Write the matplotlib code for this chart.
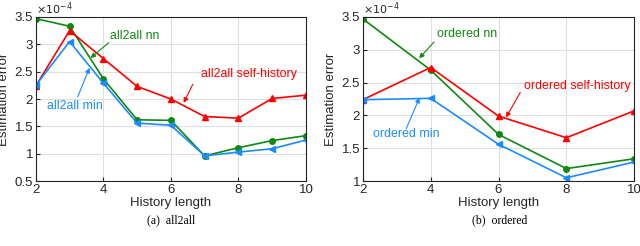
import numpy as np
import matplotlib.pyplot as plt

plt.rcParams['font.family'] = ['Liberation Sans', 'DejaVu Sans']

# all2all panel
a_x = [2, 3, 4, 5, 6, 7, 8, 9, 10]
a_nn = [3.47, 3.33, 2.37, 1.62, 1.61, 0.96, 1.11, 1.24, 1.33]
a_min = [2.25, 3.05, 2.29, 1.56, 1.52, 0.96, 1.03, 1.09, 1.25]
a_self = [2.24, 3.25, 2.74, 2.23, 2.00, 1.68, 1.65, 2.01, 2.07]

# ordered panel
o_x = [2, 4, 6, 8, 10]
o_nn = [3.47, 2.69, 1.71, 1.19, 1.34]
o_min = [2.24, 2.26, 1.56, 1.05, 1.29]
o_self = [2.24, 2.73, 1.99, 1.66, 2.07]

green = '#118811'
red = '#ff0000'
blue = '#1a8cff'

fig = plt.figure(figsize=(6.4, 2.46), dpi=100)
ax1 = fig.add_axes([0.056, 0.264, 0.422, 0.667])
ax2 = fig.add_axes([0.567, 0.264, 0.424, 0.667])


def style(ax, ylo, yhi, yticks, yticklabels):
    ax.set_xlim(2, 10)
    ax.set_ylim(ylo, yhi)
    ax.set_xticks([2, 4, 6, 8, 10])
    ax.set_yticks(yticks)
    ax.set_yticklabels(yticklabels)
    ax.grid(True, color='#e0e0e0', linewidth=0.8)
    ax.set_axisbelow(True)
    ax.tick_params(direction='in', length=3, labelsize=9.5, colors='#262626', pad=2)
    for s in ax.spines.values():
        s.set_color('#262626')
        s.set_linewidth(0.8)
    ax.set_xlabel('History length', fontsize=9.5, color='#262626', labelpad=1)
    ax.set_ylabel('Estimation error', fontsize=9.5, color='#262626', labelpad=3)
    ax.text(0.0, 1.0, r'$\times10^{-4}$', transform=ax.transAxes, fontsize=8,
            color='#262626', ha='left', va='bottom')


def note(ax, txt, color, xy, xytext, tx, ty):
    ax.annotate('', xy=xy, xytext=xytext,
                arrowprops=dict(arrowstyle='-|>', color=color, lw=0.8,
                                mutation_scale=7, shrinkA=0, shrinkB=0))
    ax.text(tx, ty, txt, color=color, fontsize=8.9, va='center', ha='left')


ax1.plot(a_x, a_nn, color=green, marker='o', ms=4, lw=1.2)
ax1.plot(a_x, a_self, color=red, marker='^', ms=4.5, lw=1.2)
ax1.plot(a_x, a_min, color=blue, marker='<', ms=4.5, lw=1.2)
style(ax1, 0.5, 3.5, [0.5, 1, 1.5, 2, 2.5, 3, 3.5],
      ['0.5', '1', '1.5', '2', '2.5', '3', '3.5'])
note(ax1, 'all2all nn', green, (3.62, 2.75), (4.16, 3.03), 4.2, 3.16)
note(ax1, 'all2all min', blue, (3.59, 2.57), (3.24, 2.04), 2.34, 1.88)
note(ax1, 'all2all self-history', red, (6.38, 1.93), (6.65, 2.27), 6.89, 2.46)

ax2.plot(o_x, o_nn, color=green, marker='o', ms=4, lw=1.2)
ax2.plot(o_x, o_self, color=red, marker='^', ms=4.5, lw=1.2)
ax2.plot(o_x, o_min, color=blue, marker='<', ms=4.5, lw=1.2)
style(ax2, 1, 3.5, [1, 1.5, 2, 2.5, 3, 3.5],
      ['1', '1.5', '2', '2.5', '3', '3.5'])
note(ax2, 'ordered nn', green, (3.66, 2.87), (4.1, 3.12), 4.18, 3.24)
note(ax2, 'ordered self-history', red, (6.22, 1.97), (6.64, 2.35), 6.74, 2.45)
note(ax2, 'ordered min', blue, (3.67, 2.27), (3.28, 1.8), 2.31, 1.72)

fig.text(0.267, 0.105, '(a)  all2all', family='Liberation Serif', fontsize=8.5,
         ha='center', va='center')
fig.text(0.78, 0.105, '(b)  ordered', family='Liberation Serif', fontsize=8.5,
         ha='center', va='center')
fig.text(0.06, -0.004, 'Figure 3: Estimation error of different approaches as a function of history length.',
         family='Liberation Sans', fontsize=11.5, ha='left', va='top', color='#333333')

fig.savefig('out.png', dpi=100)
